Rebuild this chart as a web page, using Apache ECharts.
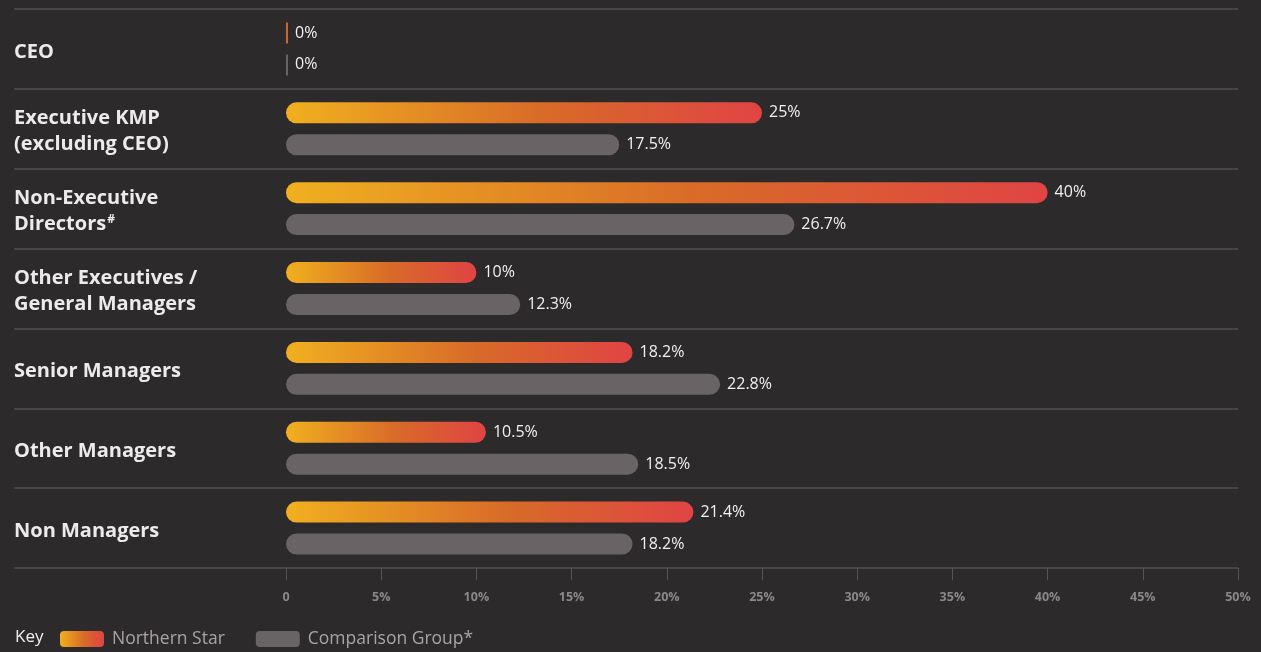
<!DOCTYPE html>
<html>
<head>
<meta charset="utf-8">
<style>
  html, body { margin: 0; padding: 0; background: #2c2a2b; }
  #chart { width: 1261px; height: 652px; }
</style>
<script src="https://cdn.jsdelivr.net/npm/echarts@6/dist/echarts.min.js"></script>
</head>
<body>
<div id="chart"></div>
<script>
// Gender diversity by role: share of women, Northern Star vs comparison group
const categories = [
  'CEO',
  'Executive KMP\n(excluding CEO)',
  'Non-Executive\nDirectors{sup|#}',
  'Other Executives /\nGeneral Managers',
  'Senior Managers',
  'Other Managers',
  'Non Managers'
];
const northernStar = [0, 25, 40, 10, 18.2, 10.5, 21.4];
const comparisonGroup = [0, 17.5, 26.7, 12.3, 22.8, 18.5, 18.2];
const axisTicks = [0, 5, 10, 15, 20, 25, 30, 35, 40, 45, 50];

const FONT = '"Open Sans", "Noto Sans", sans-serif';
const orangeGradient = new echarts.graphic.LinearGradient(0, 0, 1, 0, [
  { offset: 0, color: '#f0b01f' },
  { offset: 0.55, color: '#d86a28' },
  { offset: 1, color: '#e04444' }
]);
const greyBar = '#6a6365';

function toItems(values, zeroColor) {
  return values.map(v => v === 0 ? { value: v, itemStyle: { color: zeroColor, borderRadius: 0 } } : v);
}

const valueLabel = {
  show: true,
  position: 'right',
  distance: 7,
  color: '#f2f0f0',
  fontSize: 16,
  fontFamily: FONT,
  formatter: p => p.value + '%'
};

const chart = echarts.init(document.getElementById('chart'), null, { renderer: 'canvas' });
chart.setOption({
  backgroundColor: '#2c2a2b',
  animation: false,
  title: {
    text: 'Key',
    left: 10,
    top: 624,
    textStyle: { color: '#f0eeee', fontSize: 17, fontWeight: 'normal', fontFamily: FONT }
  },
  legend: {
    left: 55,
    top: 625,
    itemWidth: 44,
    itemHeight: 16,
    itemGap: 31,
    icon: 'roundRect',
    textStyle: { color: '#aaa4a5', fontSize: 17.5, fontFamily: FONT, padding: [0, 0, 0, 3] },
    data: ['Northern Star', 'Comparison Group*']
  },
  grid: [
    { left: 286, right: 23, top: 9, bottom: 84 },
    { left: 14, right: 23, top: 9, bottom: 84 }
  ],
  xAxis: [
    {
      type: 'value',
      gridIndex: 0,
      min: axisTicks[0],
      max: axisTicks[axisTicks.length - 1],
      interval: 5,
      axisLine: { show: false },
      axisTick: { show: true, length: 12, lineStyle: { color: '#575455', width: 1 } },
      splitLine: { show: false },
      axisLabel: {
        color: '#8c8889',
        fontSize: 12.5,
        fontWeight: 'bold',
        fontFamily: FONT,
        margin: 23,
        formatter: v => v === 0 ? '0' : v + '%'
      }
    },
    { type: 'value', gridIndex: 1, show: false, min: 0, max: 1 }
  ],
  yAxis: [
    {
      type: 'category',
      gridIndex: 0,
      data: categories,
      inverse: true,
      axisLine: { show: false },
      axisTick: { show: false },
      splitLine: { show: false },
      axisLabel: {
        align: 'left',
        margin: 272,
        color: '#ecebeb',
        fontSize: 20,
        fontWeight: 'bold',
        fontFamily: FONT,
        lineHeight: 26,
        padding: [6, 0, 0, 0],
        rich: {
          sup: { fontSize: 12, fontWeight: 'bold', color: '#ecebeb', fontFamily: FONT, padding: [0, 0, 10, 1] }
        }
      }
    },
    {
      type: 'category',
      gridIndex: 1,
      data: categories,
      inverse: true,
      axisLine: { show: false },
      axisTick: { show: false },
      axisLabel: { show: false },
      splitLine: { show: true, lineStyle: { color: '#524f50', width: 1.5 } }
    }
  ],
  series: [
    {
      name: 'Northern Star',
      type: 'bar',
      xAxisIndex: 0,
      yAxisIndex: 0,
      data: toItems(northernStar, '#d8621f'),
      barWidth: 21,
      barGap: '52%',
      barMinHeight: 2,
      itemStyle: { color: orangeGradient, borderRadius: 11 },
      label: valueLabel
    },
    {
      name: 'Comparison Group*',
      type: 'bar',
      xAxisIndex: 0,
      yAxisIndex: 0,
      data: toItems(comparisonGroup, greyBar),
      barWidth: 21,
      barMinHeight: 2,
      itemStyle: { color: greyBar, borderRadius: 11 },
      label: valueLabel
    }
  ]
});
</script>
</body>
</html>
